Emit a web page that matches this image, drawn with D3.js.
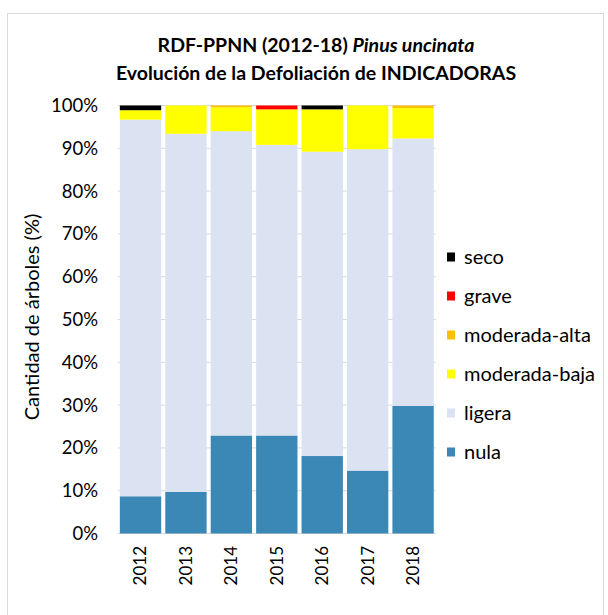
<!DOCTYPE html>
<html>
<head>
<meta charset="utf-8">
<script src="https://cdn.jsdelivr.net/npm/d3@7"></script>
<style>
  html, body { margin: 0; padding: 0; background: #fff; }
  svg { display: block; }
  text { font-family: Lato, "Open Sans", "Liberation Sans", sans-serif; fill: #000; }
</style>
</head>
<body>
<svg id="chart" width="608" height="615"></svg>
<script>
// Years on the x axis
const years = ["2012", "2013", "2014", "2015", "2016", "2017", "2018"];

// Defoliation classes, bottom to top of each stack
const classes = ["nula", "ligera", "moderada-baja", "moderada-alta", "grave", "seco"];
const classColors = ["#3b87b5", "#dbe2f1", "#ffff00", "#ffc000", "#ff0000", "#000000"];

// Share of trees (%) in each class, one value per year
const nula         = [8.7, 9.7, 22.9, 22.9, 18.1, 14.7, 29.8];
const ligera       = [88.0, 83.7, 71.1, 67.9, 71.1, 75.1, 62.5];
const moderadaBaja = [2.2, 6.6, 5.6, 8.3, 9.9, 10.2, 7.1];
const moderadaAlta = [0, 0, 0.4, 0, 0, 0, 0.6];
const grave        = [0, 0, 0, 0.9, 0, 0, 0];
const seco         = [1.1, 0, 0, 0, 0.9, 0, 0];

const yTicks = [0, 10, 20, 30, 40, 50, 60, 70, 80, 90, 100];

const series = [nula, ligera, moderadaBaja, moderadaAlta, grave, seco];
const rows = years.map((y, i) => {
  const r = { year: y };
  classes.forEach((c, k) => { r[c] = series[k][i]; });
  return r;
});

const svg = d3.select("#chart");

// Outer chart frame
svg.append("rect")
  .attr("x", 7.5).attr("y", 13.5)
  .attr("width", 596).attr("height", 620)
  .attr("fill", "#fff").attr("stroke", "#d9d9d9").attr("stroke-width", 1);

const x = d3.scaleBand().domain(years).range([117.8, 435.8]).paddingInner(0.09).paddingOuter(0.045);
const y = d3.scaleLinear().domain([0, 100]).range([533.5, 105.5]);

// Horizontal gridlines
svg.append("g")
  .selectAll("line")
  .data(yTicks)
  .join("line")
  .attr("x1", 117.8).attr("x2", 435.8)
  .attr("y1", d => y(d)).attr("y2", d => y(d))
  .attr("stroke", "#d9d9d9").attr("stroke-width", 1);

// Stacked bars
const stack = d3.stack().keys(classes)(rows);
const color = d3.scaleOrdinal().domain(classes).range(classColors);

svg.append("g")
  .selectAll("g")
  .data(stack)
  .join("g")
  .attr("fill", d => color(d.key))
  .selectAll("rect")
  .data(d => d)
  .join("rect")
  .attr("x", d => x(d.data.year))
  .attr("width", x.bandwidth())
  .attr("y", d => y(d[1]))
  .attr("height", d => Math.max(0, y(d[0]) - y(d[1])));

// Y axis tick labels
const yAxis = d3.axisLeft(y).tickValues(yTicks).tickFormat(d => d + "%").tickSize(0).tickPadding(0);
const yg = svg.append("g").attr("transform", "translate(98,0)").call(yAxis);
yg.select(".domain").remove();
yg.selectAll("text").attr("font-size", 18.5).style("font-family", "Lato, 'Open Sans', sans-serif").attr("fill", "#000");

// X axis labels, rotated
const xAxis = d3.axisBottom(x).tickSize(0).tickPadding(0);
const xg = svg.append("g").attr("transform", "translate(0,546)").call(xAxis);
xg.select(".domain").remove();
xg.selectAll("text")
  .attr("font-size", 17)
  .style("font-family", "Lato, 'Open Sans', sans-serif")
  .attr("fill", "#000")
  .attr("transform", "rotate(-90)")
  .attr("text-anchor", "end")
  .attr("x", 0).attr("y", 0).attr("dy", "0.35em");

// Y axis title
svg.append("text")
  .attr("transform", "translate(39,317) rotate(-90)")
  .attr("text-anchor", "middle")
  .attr("font-size", 20)
  .text("Cantidad de árboles (%)");

// Chart title
const title = svg.append("text")
  .attr("x", 316).attr("y", 52)
  .attr("text-anchor", "middle")
  .attr("font-size", 19.5).attr("font-weight", "bold");
title.append("tspan").text("RDF-PPNN (2012-18) ");
title.append("tspan").attr("font-style", "italic").text("Pinus uncinata");

svg.append("text")
  .attr("x", 316).attr("y", 80)
  .attr("text-anchor", "middle")
  .attr("font-size", 19.5).attr("font-weight", "bold")
  .text("Evolución de la Defoliación de INDICADORAS");

// Legend, top class first
const legendItems = classes.slice().reverse();
const lg = svg.append("g")
  .selectAll("g")
  .data(legendItems)
  .join("g")
  .attr("transform", (d, i) => `translate(447,${257 + i * 39})`);
lg.append("rect")
  .attr("x", 0).attr("y", -4.5).attr("width", 8).attr("height", 9)
  .attr("fill", d => color(d));
lg.append("text")
  .attr("x", 17).attr("y", 0).attr("dy", "0.35em")
  .attr("font-size", 20)
  .text(d => d);
</script>
</body>
</html>
